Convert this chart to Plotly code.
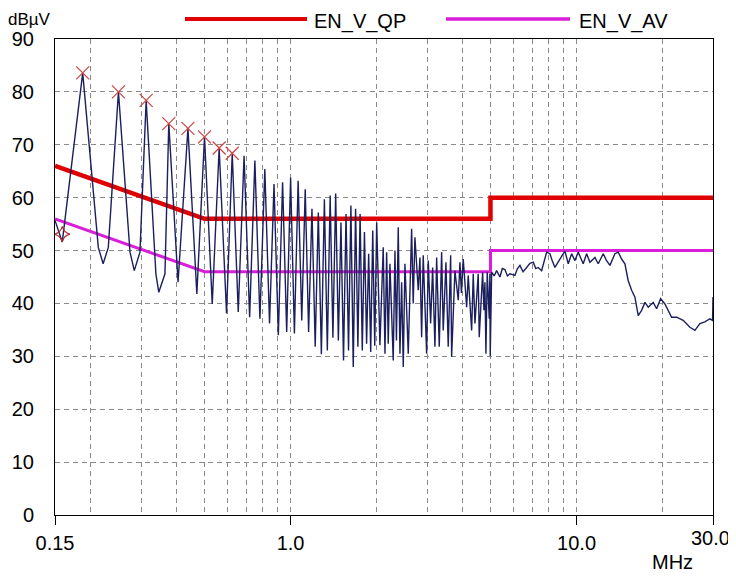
import plotly.graph_objects as go

# ---------------- data ----------------
freq_mhz = [
    0.150, 0.159, 0.1875, 0.2126, 0.221, 0.2304, 0.250, 0.2744, 0.284, 0.2973,
    0.3125, 0.338, 0.346, 0.3636, 0.375, 0.404,
    0.4375, 0.470, 0.500, 0.532, 0.5625, 0.597, 0.625, 0.656, 0.6875, 0.719,
    0.750, 0.781, 0.8125, 0.844, 0.875, 0.906, 0.9375, 0.969,
    1.000, 1.031, 1.0625, 1.094, 1.125, 1.156, 1.1875, 1.219, 1.250, 1.281,
    1.3125, 1.344, 1.375, 1.406, 1.4375, 1.469, 1.500, 1.531, 1.5625, 1.594,
    1.625, 1.656, 1.6875, 1.719, 1.750, 1.781, 1.8125, 1.844, 1.875, 1.906,
    1.9375, 1.969, 2.000,
    2.053, 2.108, 2.138, 2.167, 2.195, 2.225, 2.285, 2.317, 2.345, 2.379,
    2.412, 2.445, 2.477, 2.511, 2.579, 2.650, 2.684, 2.721, 2.795, 2.833,
    2.872, 2.909, 2.990, 3.029, 3.088, 3.138, 3.197, 3.241, 3.310, 3.374,
    3.418, 3.493, 3.558, 3.628, 3.657, 3.755, 3.857, 3.910, 3.957, 4.015,
    4.127, 4.180, 4.296, 4.352, 4.412, 4.530, 4.567, 4.694, 4.743, 4.781,
    4.820, 4.871, 4.950, 4.975, 4.990,
    5.047, 5.150, 5.254, 5.396, 5.500, 5.617, 5.730, 5.848, 6.089, 6.200,
    6.339, 6.500, 6.690, 6.870, 7.055, 7.200, 7.344, 7.548, 7.859, 8.070,
    8.230, 8.401, 8.746, 9.106, 9.351, 9.611, 9.869, 10.134, 10.551, 10.844,
    11.136, 11.594, 11.906, 12.395, 12.700, 13.082, 13.619, 13.986, 14.373,
    14.760, 15.157, 15.579, 15.999, 16.430, 16.886, 17.340, 17.807, 18.539,
    19.053, 19.676, 20.369, 21.497, 22.380, 23.600, 24.909, 25.932, 26.997,
    28.107, 29.262, 29.900, 30.000,
]
level_dbuv = [
    55.7, 51.6, 83.6, 50.6, 47.5, 50.6, 80.0, 49.7, 46.2, 49.7,
    78.4, 45.6, 42.1, 45.6, 74.0, 44.0,
    73.1, 41.8, 71.5, 39.9, 69.4, 38.1, 68.4, 38.4, 67.9, 37.4,
    67.0, 37.1, 65.4, 36.2, 62.6, 34.0, 62.9, 34.6,
    63.8, 34.3, 63.2, 36.8, 61.6, 34.6, 57.9, 31.8, 57.2, 30.4,
    59.7, 31.1, 60.4, 33.5, 60.8, 33.0, 55.3, 29.2, 56.9, 31.1,
    58.5, 28.0, 57.9, 31.8, 56.9, 31.1, 53.5, 32.4, 49.4, 30.8,
    53.8, 32.0, 55.3,
    32.1, 50.6, 30.5, 49.7, 32.4, 47.5, 29.2, 50.0, 33.0, 54.4,
    30.5, 44.0, 28.0, 47.5, 30.5, 54.1, 40.0, 52.5, 42.5, 48.7,
    33.6, 49.1, 30.5, 48.1, 36.2, 46.8, 31.8, 48.7, 31.8, 49.7,
    34.9, 47.8, 31.8, 49.1, 29.9, 46.2, 40.6, 47.8, 42.0, 48.4,
    39.3, 45.3, 34.9, 45.6, 36.2, 45.6, 33.6, 45.9, 38.7, 44.0,
    30.5, 45.9, 37.1, 45.6, 30.0,
    45.9, 45.2, 46.2, 45.0, 46.6, 46.4, 45.2, 45.6, 45.3, 46.5,
    47.2, 46.0, 46.8, 47.6, 47.8, 46.6, 46.8, 46.2, 49.7, 49.4,
    48.0, 46.8, 48.4, 49.9, 47.5, 49.4, 48.1, 49.7, 47.5, 49.4,
    47.8, 48.7, 47.5, 49.4, 48.2, 47.2, 49.4, 49.7, 48.4,
    47.5, 44.3, 42.5, 41.2, 37.7, 38.7, 40.2, 39.3, 40.2,
    39.0, 40.9, 39.9, 37.4, 37.4, 36.8, 35.5, 34.9, 36.2,
    36.5, 37.1, 36.8, 41.2,
]

peak_freq = [0.1875, 0.250, 0.3125, 0.375, 0.4375, 0.500, 0.5625, 0.625]
peak_level = [83.6, 80.0, 78.4, 74.0, 73.1, 71.5, 69.4, 68.4]

start_mark_freq = [0.159]
start_mark_level = [53.1]

qp_freq = [0.15, 0.5, 5.0, 5.0, 30.0]
qp_level = [66.0, 56.0, 56.0, 60.0, 60.0]
av_freq = [0.15, 0.5, 5.0, 5.0, 30.0]
av_level = [56.0, 46.0, 46.0, 50.0, 50.0]

x_tick_vals = [0.15, 1.0, 10.0, 30.0]
x_tick_text = ["0.15", "1.0", "10.0", ""]
x_last_label = "30.0"
x_grid_vals = [0.2, 0.3, 0.4, 0.5, 0.6, 0.7, 0.8, 0.9, 1.0,
               2, 3, 4, 5, 6, 7, 8, 9, 10, 20]
y_tick_vals = [0, 10, 20, 30, 40, 50, 60, 70, 80, 90]

# ---------------- figure ----------------
FONT = "Arial, Liberation Sans, sans-serif"
FS = 20
QP_COLOR = "#e00000"
AV_COLOR = "#d81ed8"
TRACE_COLOR = "#1b1f5e"

fig = go.Figure()
fig.add_trace(go.Scatter(x=av_freq, y=av_level, mode="lines",
                         line=dict(color=AV_COLOR, width=3), name="EN_V_AV",
                         showlegend=False))
fig.add_trace(go.Scatter(x=qp_freq, y=qp_level, mode="lines",
                         line=dict(color=QP_COLOR, width=4.5), name="EN_V_QP",
                         showlegend=False))
fig.add_trace(go.Scatter(x=freq_mhz, y=level_dbuv, mode="lines",
                         line=dict(color=TRACE_COLOR, width=1.4),
                         showlegend=False))
fig.add_trace(go.Scatter(x=peak_freq, y=peak_level, mode="markers",
                         marker=dict(symbol="x-thin", size=13,
                                     line=dict(color="#d04848", width=1.3)),
                         showlegend=False))
fig.add_trace(go.Scatter(x=start_mark_freq, y=start_mark_level, mode="markers",
                         marker=dict(symbol="star-diamond-open", size=11,
                                     color="#b03030",
                                     line=dict(color="#b03030", width=1.2)),
                         showlegend=False))

# page body has an 8px margin; work in screen pixels and convert
OFF = 8
SCR_W, SCR_H = 736, 576
W, H = SCR_W - OFF, SCR_H - OFF
X0, X1, Y0, Y1 = 55, 713, 39, 515          # plot box on screen
L, R, T, B = X0 - OFF, OFF + W - X1, Y0 - OFF, OFF + H - Y1
pw = X1 - X0
ph = Y1 - Y0

def px(xs):
    return (xs - X0) / pw

def py(ys):
    return (Y1 - ys) / ph

shapes = [
    dict(type="line", xref="paper", yref="paper", x0=px(185), x1=px(307),
         y0=py(19), y1=py(19), line=dict(color=QP_COLOR, width=4)),
    dict(type="line", xref="paper", yref="paper", x0=px(446), x1=px(570),
         y0=py(19), y1=py(19), line=dict(color=AV_COLOR, width=3.5)),
]
txt = dict(family=FONT, size=FS, color="black")
top_y = py(OFF + 0.5)
annotations = [
    dict(text="EN_V_QP", xref="paper", yref="paper", x=px(313), y=top_y,
         xanchor="left", yanchor="top", showarrow=False, font=txt, borderpad=0),
    dict(text="EN_V_AV", xref="paper", yref="paper", x=px(578), y=top_y,
         xanchor="left", yanchor="top", showarrow=False, font=txt, borderpad=0),
    dict(text="dBµV", xref="paper", yref="paper", x=px(7), y=top_y,
         xanchor="left", yanchor="top", showarrow=False, borderpad=0,
         font=dict(family=FONT, size=17, color="black")),
    dict(text="MHz", xref="paper", yref="paper", x=px(672), y=py(562),
         xanchor="center", yanchor="middle", showarrow=False, font=txt),
    dict(text=x_last_label, xref="paper", yref="paper", x=px(731), y=py(538),
         xanchor="right", yanchor="middle", showarrow=False, font=txt,
         borderpad=0),
]

fig.update_layout(
    width=W, height=H,
    margin=dict(l=L, r=R, t=T, b=B, pad=0, autoexpand=False),
    paper_bgcolor="white", plot_bgcolor="white",
    font=dict(family=FONT, size=FS, color="black"),
    shapes=shapes, annotations=annotations,
    showlegend=False,
)
fig.update_xaxes(
    type="log", range=[-0.8239087, 1.4771213], automargin=False,
    tickvals=x_tick_vals, ticktext=x_tick_text,
    ticks="outside", ticklen=9, tickcolor="black", tickwidth=1,
    showgrid=True, gridcolor="#8a8a8a", griddash="5px,4px", gridwidth=1,
    minor=dict(tickvals=x_grid_vals, showgrid=True, gridcolor="#8a8a8a",
               griddash="5px,4px", gridwidth=1, ticks=""),
    showline=True, linecolor="black", linewidth=1, mirror=True,
    zeroline=False, ticklabelstandoff=1,
)
fig.update_yaxes(
    range=[0, 90], tickvals=y_tick_vals, automargin=False,
    ticks="", showgrid=True, gridcolor="#8a8a8a", griddash="5px,4px",
    gridwidth=1, showline=True, linecolor="black", linewidth=1, mirror=True,
    zeroline=False, ticklabelstandoff=16,
)

fig.write_html("out.html")
